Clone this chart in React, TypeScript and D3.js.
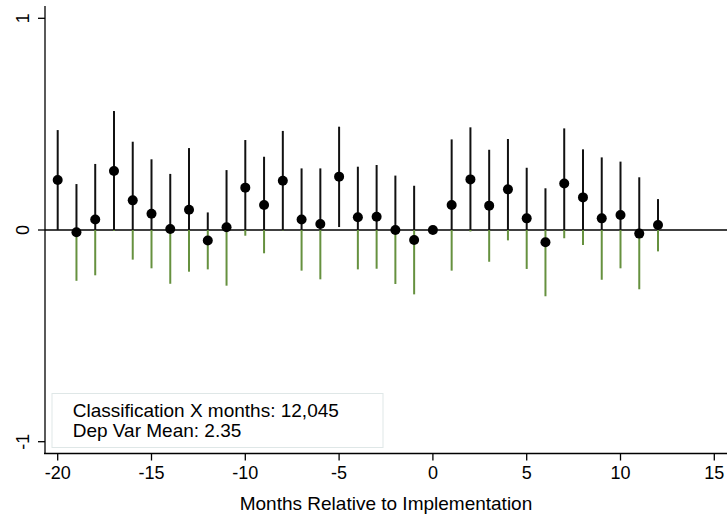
import * as React from 'react'
import * as d3 from 'd3'

const WIDTH = 727
const HEIGHT = 516
const AXIS_X = 45
const AXIS_Y = 453.5
const FONT = '"Liberation Sans", Arial, Helvetica, sans-serif'
const GREEN = '#66913f'

// months relative to implementation, point estimates and CI ends
const months = [
  -20, -19, -18, -17, -16, -15, -14, -13, -12, -11, -10, -9, -8, -7, -6, -5,
  -4, -3, -2, -1, 0, 1, 2, 3, 4, 5, 6, 7, 8, 9, 10, 11, 12
]
const estimates = [
  0.236, -0.011, 0.05, 0.279, 0.14, 0.077, 0.005, 0.096, -0.05, 0.013, 0.2,
  0.118, 0.233, 0.05, 0.028, 0.252, 0.06, 0.063, 0.0, -0.047, 0, 0.118, 0.239,
  0.115, 0.192, 0.055, -0.058, 0.22, 0.154, 0.055, 0.071, -0.017, 0.024
]
const ciLow = [
  0.0, -0.24, -0.214, -0.004, -0.14, -0.181, -0.254, -0.197, -0.186, -0.263,
  -0.027, -0.11, -0.002, -0.192, -0.233, 0.014, -0.186, -0.183, -0.255, -0.304,
  0, -0.192, -0.007, -0.15, -0.049, -0.184, -0.313, -0.039, -0.071, -0.235,
  -0.181, -0.28, -0.101
]
const ciHigh = [
  0.472, 0.217, 0.312, 0.562, 0.417, 0.334, 0.265, 0.387, 0.083, 0.283, 0.425,
  0.346, 0.468, 0.291, 0.291, 0.488, 0.299, 0.307, 0.257, 0.209, 0, 0.428,
  0.485, 0.379, 0.43, 0.294, 0.197, 0.48, 0.381, 0.343, 0.323, 0.249, 0.146
]
const xTicks = [-20, -15, -10, -5, 0, 5, 10, 15]
const yTicks = [-1, 0, 1]
const noteLines = ['Classification X months: 12,045', 'Dep Var Mean: 2.35']
const xTitle = 'Months Relative to Implementation'

export default function App() {
  const x = d3.scaleLinear().domain([-20, 15]).range([57.7, 714.3])
  const y = d3.scaleLinear().domain([-1, 1]).range([441.7, 18.3])

  const rows = months.map((m, i) => ({
    m,
    est: estimates[i],
    lo: ciLow[i],
    hi: ciHigh[i]
  }))

  return (
    <svg
      width={WIDTH}
      height={HEIGHT}
      style={{ position: 'absolute', left: 0, top: 0, background: '#fff' }}
      fontFamily={FONT}
    >
      <rect width={WIDTH} height={HEIGHT} fill="#fff" />

      {/* note box */}
      <rect
        x={52}
        y={393.5}
        width={331}
        height={54}
        fill="#fff"
        stroke="#dfe7e7"
        strokeWidth={1}
      />
      {noteLines.map((t, i) => (
        <text key={t} x={72.7} y={417.3 + i * 19.4} fontSize={19} fill="#000">
          {t}
        </text>
      ))}

      {/* zero line */}
      <line
        x1={AXIS_X}
        x2={WIDTH}
        y1={y(0)}
        y2={y(0)}
        stroke="#000"
        strokeWidth={1.6}
      />

      {/* lower part of CI (green) */}
      {rows.map(d =>
        d.lo < 0 ? (
          <line
            key={'g' + d.m}
            x1={x(d.m)}
            x2={x(d.m)}
            y1={y(0)}
            y2={y(d.lo)}
            stroke={GREEN}
            strokeWidth={2}
          />
        ) : null
      )}
      {/* upper part of CI (black) */}
      {rows.map(d =>
        d.hi > 0 ? (
          <line
            key={'b' + d.m}
            x1={x(d.m)}
            x2={x(d.m)}
            y1={y(Math.max(0, d.lo))}
            y2={y(d.hi)}
            stroke="#111"
            strokeWidth={2}
          />
        ) : null
      )}
      {rows.map(d => (
        <circle key={'c' + d.m} cx={x(d.m)} cy={y(d.est)} r={5} fill="#000" />
      ))}

      {/* y axis */}
      <line x1={AXIS_X} x2={AXIS_X} y1={6} y2={AXIS_Y} stroke="#000" strokeWidth={1.3} />
      {yTicks.map(t => (
        <g key={t}>
          <line x1={AXIS_X - 7} x2={AXIS_X} y1={y(t)} y2={y(t)} stroke="#000" strokeWidth={1.3} />
          <text
            transform={`translate(28.5,${y(t)}) rotate(-90)`}
            textAnchor="middle"
            fontSize={18}
            fill="#000"
          >
            {t}
          </text>
        </g>
      ))}

      {/* x axis */}
      <line x1={AXIS_X - 1} x2={WIDTH} y1={AXIS_Y} y2={AXIS_Y} stroke="#000" strokeWidth={1.3} />
      {xTicks.map(t => (
        <g key={t}>
          <line x1={x(t)} x2={x(t)} y1={AXIS_Y} y2={AXIS_Y + 7} stroke="#000" strokeWidth={1.3} />
          <text x={x(t)} y={479} textAnchor="middle" fontSize={18} fill="#000">
            {t}
          </text>
        </g>
      ))}
      <text x={386} y={510} textAnchor="middle" fontSize={19} fill="#000">
        {xTitle}
      </text>
    </svg>
  )
}
